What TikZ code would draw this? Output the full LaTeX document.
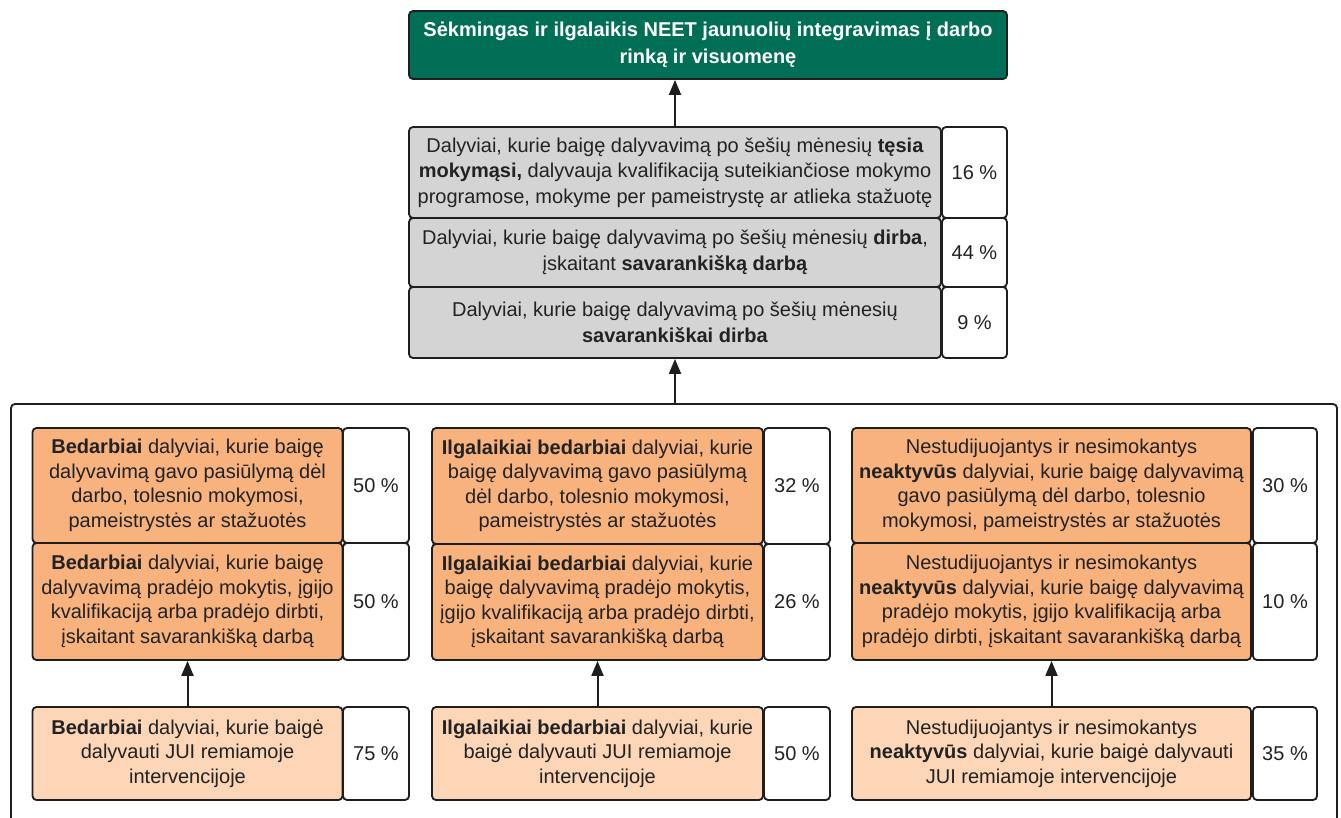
\documentclass[tikz,border=0pt]{standalone}
\usepackage{fontspec}
\setmainfont{Liberation Sans}
\usetikzlibrary{arrows.meta}
\definecolor{lineC}{HTML}{1E1E1E}
\definecolor{txtC}{HTML}{222222}
\definecolor{greenC}{HTML}{006F55}
\definecolor{greyC}{HTML}{D4D4D4}
\definecolor{orangeC}{HTML}{F7B27E}
\definecolor{lorangeC}{HTML}{FCD6B6}
\tikzset{
  base/.style={draw=lineC, line width=1.8pt, rounded corners=4pt, inner sep=0pt,
    align=center, text=txtC, font=\fontsize{20}{25}\selectfont},
  topbox/.style={base, fill=greenC, text=white, font=\fontsize{20}{27}\bfseries\selectfont},
  greybox/.style={base, fill=greyC, font=\fontsize{20}{25.5}\selectfont},
  orbox/.style={base, fill=orangeC, font=\fontsize{20}{24.5}\selectfont},
  lorbox/.style={base, fill=lorangeC, font=\fontsize{20}{24.5}\selectfont},
  pctbox/.style={base, fill=white},
  arr/.style={draw=lineC, line width=2pt, -{Triangle[width=12pt,length=15pt]}},
  framestyle/.style={draw=lineC, line width=1.8pt, rounded corners=4pt},
}
\begin{document}
\begin{tikzpicture}[x=1pt,y=-1pt]
\useasboundingbox (0,0) rectangle (1341,817);

% top green box
\node[topbox, minimum width=598pt, minimum height=68pt] (goal) at (708,45)
  {Sėkmingas ir ilgalaikis NEET jaunuolių integravimas į darbo\\rinką ir visuomenę};

% grey boxes
\node[greybox, minimum width=532pt, minimum height=91pt] (g1) at (675,172.5)
  {Dalyviai, kurie baigę dalyvavimą po šešių mėnesių \textbf{tęsia}\\
   \textbf{mokymąsi,} dalyvauja kvalifikaciją suteikiančiose mokymo\\
   programose, mokyme per pameistrystę ar atlieka stažuotę};
\node[pctbox, minimum width=65pt, minimum height=91pt] (p1) at (974.5,172.5) {16 \%};
\node[greybox, minimum width=532pt, minimum height=69pt] (g2) at (675,252.5)
  {Dalyviai, kurie baigę dalyvavimą po šešių mėnesių \textbf{dirba},\\
   įskaitant \textbf{savarankišką darbą}};
\node[pctbox, minimum width=65pt, minimum height=69pt] (p2) at (974.5,252.5) {44 \%};
\node[greybox, minimum width=532pt, minimum height=71pt] (g3) at (675,322.5)
  {Dalyviai, kurie baigę dalyvavimą po šešių mėnesių\\
   \textbf{savarankiškai dirba}};
\node[pctbox, minimum width=65pt, minimum height=71pt] (p3) at (974.5,322.5) {9 \%};

% frame
\draw[framestyle] (11,830) -- (11,404) -- (1337,404) -- (1337,830);
\coordinate (ftop) at (675,404);

% left column
\node[orbox, minimum width=310pt, minimum height=115pt] (a1) at (187.5,485.5)
  {\textbf{Bedarbiai} dalyviai, kurie baigę\\dalyvavimą gavo pasiūlymą dėl\\darbo, tolesnio mokymosi,\\pameistrystės ar stažuotės};
\node[pctbox, minimum width=66pt, minimum height=115pt] (ap1) at (376,485.5) {50 \%};
\node[orbox, minimum width=310pt, minimum height=117pt] (a2) at (187.5,601.5)
  {\textbf{Bedarbiai} dalyviai, kurie baigę\\dalyvavimą pradėjo mokytis, įgijo\\kvalifikaciją arba pradėjo dirbti,\\įskaitant savarankišką darbą};
\node[pctbox, minimum width=66pt, minimum height=117pt] (ap2) at (376,601.5) {50 \%};
\node[lorbox, minimum width=310pt, minimum height=93pt] (a3) at (187.5,753.5)
  {\textbf{Bedarbiai} dalyviai, kurie baigė\\dalyvauti JUI remiamoje\\intervencijoje};
\node[pctbox, minimum width=66pt, minimum height=93pt] (ap3) at (376,753.5) {75 \%};

% middle column
\node[orbox, minimum width=331pt, minimum height=116pt] (b1) at (597.5,486)
  {\textbf{Ilgalaikiai bedarbiai} dalyviai, kurie\\baigę dalyvavimą gavo pasiūlymą\\dėl darbo, tolesnio mokymosi,\\pameistrystės ar stažuotės};
\node[pctbox, minimum width=66pt, minimum height=116pt] (bp1) at (797,486) {32 \%};
\node[orbox, minimum width=331pt, minimum height=116pt] (b2) at (597.5,602)
  {\textbf{Ilgalaikiai bedarbiai} dalyviai, kurie\\baigę dalyvavimą pradėjo mokytis,\\įgijo kvalifikaciją arba pradėjo dirbti,\\įskaitant savarankišką darbą};
\node[pctbox, minimum width=66pt, minimum height=116pt] (bp2) at (797,602) {26 \%};
\node[lorbox, minimum width=331pt, minimum height=93pt] (b3) at (597.5,753.5)
  {\textbf{Ilgalaikiai bedarbiai} dalyviai, kurie\\baigė dalyvauti JUI remiamoje\\intervencijoje};
\node[pctbox, minimum width=66pt, minimum height=93pt] (bp3) at (797,753.5) {50 \%};

% right column
\node[orbox, minimum width=399pt, minimum height=115pt] (c1) at (1051.5,485.5)
  {Nestudijuojantys ir nesimokantys\\\textbf{neaktyvūs} dalyviai, kurie baigę dalyvavimą\\gavo pasiūlymą dėl darbo, tolesnio\\mokymosi, pameistrystės ar stažuotės};
\node[pctbox, minimum width=64pt, minimum height=115pt] (cp1) at (1285,485.5) {30 \%};
\node[orbox, minimum width=399pt, minimum height=117pt] (c2) at (1051.5,601.5)
  {Nestudijuojantys ir nesimokantys\\\textbf{neaktyvūs} dalyviai, kurie baigę dalyvavimą\\pradėjo mokytis, įgijo kvalifikaciją arba\\pradėjo dirbti, įskaitant savarankišką darbą};
\node[pctbox, minimum width=64pt, minimum height=117pt] (cp2) at (1285,601.5) {10 \%};
\node[lorbox, minimum width=399pt, minimum height=93pt] (c3) at (1051.5,753.5)
  {Nestudijuojantys ir nesimokantys\\\textbf{neaktyvūs} dalyviai, kurie baigė dalyvauti\\JUI remiamoje intervencijoje};
\node[pctbox, minimum width=64pt, minimum height=93pt] (cp3) at (1285,753.5) {35 \%};

% arrows
\draw[arr] (g1.north) -- (g1.north |- goal.south);
\draw[arr] (ftop) -- (g3.south);
\draw[arr] (a3.north) -- (a2.south);
\draw[arr] (b3.north) -- (b2.south);
\draw[arr] (c3.north) -- (c2.south);
\end{tikzpicture}
\end{document}
